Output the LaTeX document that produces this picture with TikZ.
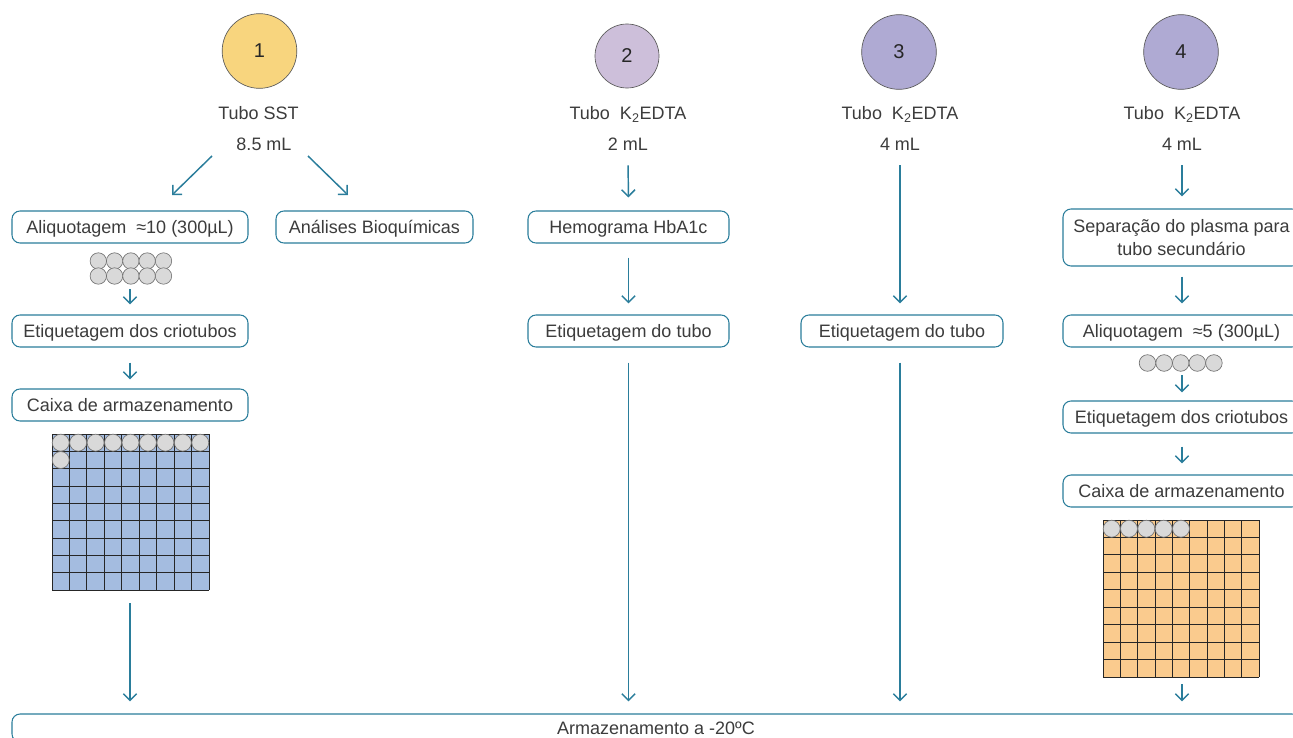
\documentclass[tikz,border=0pt]{standalone}
\usepackage{fontspec}
\setmainfont{Liberation Sans}
\usetikzlibrary{arrows.meta}

\definecolor{flowteal}{RGB}{42,125,155}
\definecolor{textgray}{RGB}{60,60,60}
\definecolor{sstyellow}{RGB}{248,213,126}
\definecolor{edtalilac}{RGB}{205,191,218}
\definecolor{edtapurple}{RGB}{175,170,211}
\definecolor{boxblue}{RGB}{164,188,224}
\definecolor{boxorange}{RGB}{250,203,142}
\definecolor{vialgray}{RGB}{217,217,217}

\tikzset{
  stepbox/.style={draw=flowteal, line width=0.8pt, rounded corners=6pt, fill=white,
    minimum height=24pt, inner sep=2pt, text=textgray,
    font=\fontsize{13.5}{16}\selectfont, text height=9.67pt, text depth=0pt},
  tubelabel/.style={inner sep=0pt, text=textgray, font=\fontsize{13.5}{16}\selectfont,
    text height=9.67pt, text depth=0pt},
  tubecirc/.style={circle, draw=black!65, line width=0.5pt, inner sep=0pt,
    font=\fontsize{15}{18}\selectfont, text=black!85},
  flow/.style={draw=flowteal, line width=1.1pt, -{Straight Barb[length=5pt,width=10pt]}},
  vial/.style={draw=black!55, fill=vialgray, line width=0.5pt},
  cellline/.style={draw=black!85, line width=0.6pt}
}

\begin{document}
\begin{tikzpicture}[x=0.75pt,y=0.75pt,yscale=-1,xscale=1]
\useasboundingbox (0,0) rectangle (1293,738);
\clip (0,0) rectangle (1293,738);

% Tubes
\node [tubecirc, fill=sstyellow, minimum size=56pt] (tube1) at (259.5,51) {1};
\node [tubecirc, fill=edtalilac, minimum size=48pt] (tube2) at (627,56) {2};
\node [tubecirc, fill=edtapurple, minimum size=56pt] (tube3) at (899,52) {3};
\node [tubecirc, fill=edtapurple, minimum size=56pt] (tube4) at (1181,52) {4};

% Tube labels
\node [tubelabel] (name1) at (258.5,113.5) {Tubo SST};
\node [tubelabel] (vol1) at (264,144) {8.5 mL};
\node [tubelabel] (name2) at (628,113.5) {Tubo\ \ K\textsubscript{2}EDTA};
\node [tubelabel] (vol2) at (628,144) {2 mL};
\node [tubelabel] (name3) at (900,113.5) {Tubo\ \ K\textsubscript{2}EDTA};
\node [tubelabel] (vol3) at (900,144) {4 mL};
\node [tubelabel] (name4) at (1182,113.5) {Tubo\ \ K\textsubscript{2}EDTA};
\node [tubelabel] (vol4) at (1182,144) {4 mL};

% Column 1
\node [stepbox, minimum width=177pt] (aliq1) at (130,227) {Aliquotagem\ \ ≈10 (300µL)};
\node [stepbox, minimum width=147.75pt] (bioq1) at (374.5,227) {Análises Bioquímicas};
\node [stepbox, minimum width=177pt] (etiq1) at (130,331) {Etiquetagem dos criotubos};
\node [stepbox, minimum width=177pt] (caixa1) at (130,405) {Caixa de armazenamento};

% Column 2
\node [stepbox, minimum width=150.75pt] (hemo2) at (628.5,227) {Hemograma HbA1c};
\node [stepbox, minimum width=150.75pt] (etiq2) at (628.5,331) {Etiquetagem do tubo};

% Column 3
\node [stepbox, minimum width=151.5pt] (etiq3) at (902,331) {Etiquetagem do tubo};

% Column 4
\node [stepbox, minimum width=177.75pt, minimum height=42.75pt, align=center,
  text height=, text depth=, font=\fontsize{13.5}{17}\selectfont] (sep4) at (1181.5,237.5)
  {Separação do plasma para\\tubo secundário};
\node [stepbox, minimum width=177.75pt] (aliq4) at (1181.5,331) {Aliquotagem\ \ ≈5 (300µL)};
\node [stepbox, minimum width=177.75pt] (etiq4) at (1181.5,417) {Etiquetagem dos criotubos};
\node [stepbox, minimum width=177.75pt] (caixa4) at (1181.5,491) {Caixa de armazenamento};

% Storage
\node [stepbox, minimum width=966pt, minimum height=21pt] (store) at (656,728) {Armazenamento a -20ºC};

% Cryotubes
\foreach \k in {0,...,4} {
  \draw [vial] ({98.3+16.3*\k},261) circle (8.2);
  \draw [vial] ({98.3+16.3*\k},276) circle (8.2);
  \draw [vial] ({1147.5+16.6*\k},363) circle (8.3);
}

% Storage box 1
\fill [boxblue] (52,434) rectangle (209,590);
\foreach \i in {0,...,9} {
  \draw [cellline] ({52+17.444*\i},434) -- ({52+17.444*\i},590);
  \draw [cellline] (52,{434+17.333*\i}) -- (209,{434+17.333*\i});
}
\foreach \i in {0,...,8}
  \draw [vial] ({52+17.444*(\i+0.5)},{434+8.67}) circle (8.5);
\draw [vial] ({52+8.72},{434+17.333+8.67}) circle (8.5);

% Storage box 4
\fill [boxorange] (1103,520) rectangle (1259,677);
\foreach \i in {0,...,9} {
  \draw [cellline] ({1103+17.333*\i},520) -- ({1103+17.333*\i},677);
  \draw [cellline] (1103,{520+17.444*\i}) -- (1259,{520+17.444*\i});
}
\foreach \i in {0,...,4}
  \draw [vial] ({1103+17.333*(\i+0.5)},{520+8.72}) circle (8.5);

% Free ends
\coordinate (fork1a) at (212,156);
\coordinate (fork1b) at (172,195);
\coordinate (fork2a) at (308,156);
\coordinate (fork2b) at (348,195);
\coordinate (vials1) at (130,289);
\coordinate (grid1) at (130,603);
\coordinate (vials4) at (1182,375);
\coordinate (grid4) at (1182,684);

% Connectors
\draw [flow] (fork1a) -- (fork1b);
\draw [flow] (fork2a) -- (fork2b);
\draw [flow, shorten >=7.5pt] (vials1) -- (etiq1.north);
\draw [flow, shorten <=11.25pt, shorten >=6.75pt] (etiq1.south) -- (caixa1.north);
\draw [flow, shorten >=9pt] (grid1) -- (grid1 |- store.north);

\draw [flow, shorten <=11pt, shorten >=9.75pt] (vol2.south) -- (hemo2.north);
\draw [flow, shorten <=10.5pt, shorten >=8.25pt] (hemo2.south) -- (hemo2.south |- etiq2.north);
\draw [flow, shorten <=11.25pt, shorten >=9pt] (etiq2.south) -- (etiq2.south |- store.north);

\draw [flow, shorten <=11pt, shorten >=8.25pt] (vol3.south) -- (vol3.south |- etiq3.north);
\draw [flow, shorten <=11.25pt, shorten >=9pt] (vol3.south |- etiq3.south) -- (vol3.south |- store.north);

\draw [flow, shorten <=11pt, shorten >=9pt] (vol4.south) -- (vol4.south |- sep4.north);
\draw [flow, shorten <=7.5pt, shorten >=8.25pt] (vol4.south |- sep4.south) -- (vol4.south |- aliq4.north);
\draw [flow, shorten >=6pt] (vials4) -- (vials4 |- etiq4.north);
\draw [flow, shorten <=9.75pt, shorten >=8.25pt] (vol4.south |- etiq4.south) -- (vol4.south |- caixa4.north);
\draw [flow, shorten >=9pt] (grid4) -- (grid4 |- store.north);

\end{tikzpicture}
\end{document}
